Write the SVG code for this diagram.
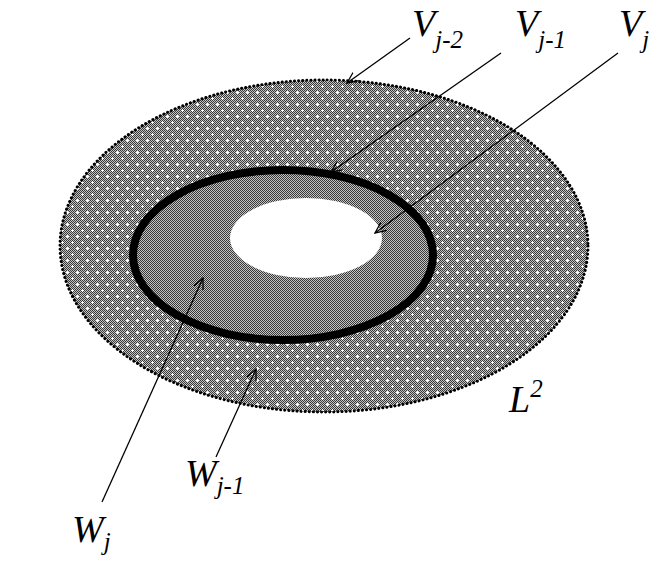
<svg xmlns="http://www.w3.org/2000/svg" width="649" height="561" viewBox="0 0 649 561">
<defs>
<pattern id="chk" width="2" height="2" patternUnits="userSpaceOnUse">
<rect width="2" height="2" fill="#c4c4c4"/>
<rect width="1" height="1" fill="#383838"/>
<rect x="1" y="1" width="1" height="1" fill="#383838"/>
</pattern>
<pattern id="outer" width="10" height="12" patternUnits="userSpaceOnUse">
<rect width="10" height="12" fill="url(#chk)"/>
<path d="M1 2.5h3M2.5 1v3M6 8.5h3M7.5 7v3" stroke="#fff" stroke-width="1"/>
</pattern>
<marker id="ah" viewBox="0 0 12 12" refX="11" refY="6" markerWidth="12" markerHeight="12" markerUnits="userSpaceOnUse" orient="auto">
<polyline points="0,1 11,6 0,11" fill="none" stroke="#000" stroke-width="1.3"/>
</marker>
<style>
.lbl{font-family:"Liberation Serif","DejaVu Serif","Times New Roman",serif;font-style:italic;fill:#000}
.big{font-size:38px}
.sub{font-size:25px}
.arr{stroke:#000;stroke-width:1.3;fill:none;marker-end:url(#ah)}
</style>
</defs>
<g id="outer-region">
<ellipse cx="324" cy="246" rx="264" ry="166" fill="url(#outer)" stroke="#000" stroke-width="3" stroke-dasharray="0.1 4" stroke-linecap="round"/>
</g>
<g id="middle-region">
<ellipse cx="283" cy="255" rx="150" ry="85" fill="url(#chk)" stroke="#000" stroke-width="8"/>
</g>
<g id="inner-region">
<ellipse cx="306" cy="238" rx="76" ry="40" fill="#fff"/>
</g>
<g id="connectors">
<line class="arr" x1="410" y1="38" x2="347" y2="83"/>
<line class="arr" x1="501" y1="53" x2="331" y2="172"/>
<line class="arr" x1="618" y1="53" x2="375" y2="233"/>
<line class="arr" x1="102" y1="502" x2="203" y2="278"/>
<line class="arr" x1="216" y1="457" x2="256" y2="369"/>
</g>
<g id="labels">
<text class="lbl" x="412" y="36" font-family="Liberation Serif, serif"><tspan class="big">V</tspan><tspan class="sub" dy="12">j-2</tspan></text>
<text class="lbl" x="515" y="36" font-family="Liberation Serif, serif"><tspan class="big">V</tspan><tspan class="sub" dy="12">j-1</tspan></text>
<text class="lbl" x="619" y="36" font-family="Liberation Serif, serif"><tspan class="big">V</tspan><tspan class="sub" dy="12">j</tspan></text>
<text class="lbl" x="185" y="486" font-family="Liberation Serif, serif"><tspan class="big">W</tspan><tspan class="sub" dy="8">j-1</tspan></text>
<text class="lbl" x="72" y="542" font-family="Liberation Serif, serif"><tspan class="big">W</tspan><tspan class="sub" dy="8">j</tspan></text>
<text class="lbl" x="509" y="412" font-family="Liberation Serif, serif"><tspan class="big">L</tspan><tspan class="sub" dy="-15">2</tspan></text>
</g>
</svg>
